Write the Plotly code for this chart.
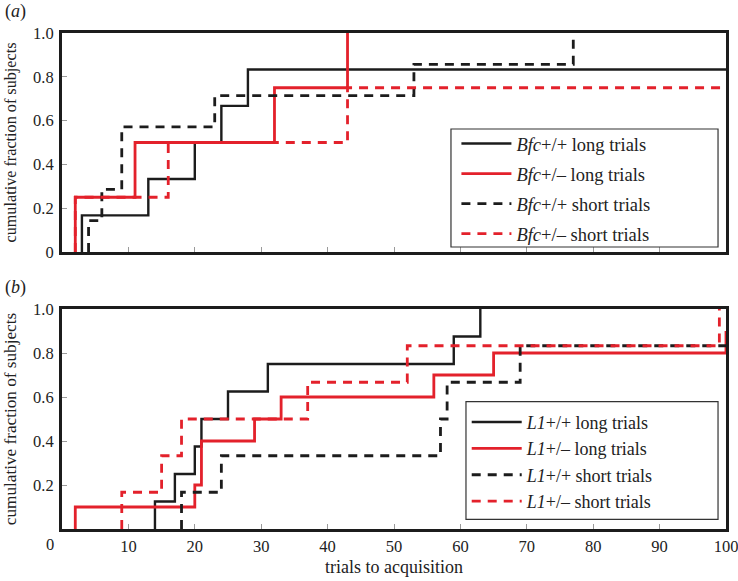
import plotly.graph_objects as go

# ---------------- data ----------------
X_MAX = 100

# panel (a): Bfc
a_wt_long_x = [3, 13, 20, 24, 28]
a_wt_long_y = [0.167, 0.333, 0.5, 0.667, 0.833]
a_het_long_x = [2, 11, 32, 43]
a_het_long_y = [0.25, 0.5, 0.75, 1.0]
a_wt_short_x = [4, 6, 9, 23, 53, 77]
a_wt_short_y = [0.143, 0.286, 0.571, 0.714, 0.857, 1.0]
a_het_short_x = [2, 16, 43]
a_het_short_y = [0.25, 0.5, 0.75]

# panel (b): L1
b_wt_long_x = [14, 17, 20, 21, 25, 31, 59, 63]
b_wt_long_y = [0.125, 0.25, 0.375, 0.5, 0.625, 0.75, 0.875, 1.0]
b_het_long_x = [2, 20, 21, 29, 33, 56, 65, 100]
b_het_long_y = [0.1, 0.2, 0.4, 0.5, 0.6, 0.7, 0.8, 0.9]
b_wt_short_x = [18, 24, 57, 58, 69]
b_wt_short_y = [0.167, 0.333, 0.5, 0.667, 0.833]
b_het_short_x = [9, 15, 18, 37, 52, 99]
b_het_short_y = [0.167, 0.333, 0.5, 0.667, 0.833, 1.0]

x_ticks = [0, 10, 20, 30, 40, 50, 60, 70, 80, 90, 100]
y_ticks = [0, 0.2, 0.4, 0.6, 0.8, 1.0]
y_ticklabels = ["0", "0.2", "0.4", "0.6", "0.8", "1.0"]

legend_a = ["<i>Bfc</i>+/+ long trials", "<i>Bfc</i>+/– long trials",
            "<i>Bfc</i>+/+ short trials", "<i>Bfc</i>+/– short trials"]
legend_b = ["<i>L1</i>+/+ long trials", "<i>L1</i>+/– long trials",
            "<i>L1</i>+/+ short trials", "<i>L1</i>+/– short trials"]

BLACK = "#1c1c1c"
RED = "#e3212b"
FONT = "Liberation Serif, Times New Roman, serif"
DASH = "9px,7px"


def step_xy(xs, ys):
    px = [xs[0]] + list(xs)
    py = [0] + list(ys)
    # curves that never reach 1.0 continue flat to the end of the axis
    if px[-1] < X_MAX and py[-1] < 1.0:
        px.append(X_MAX)
        py.append(py[-1])
    return px, py


fig = go.Figure()

series = [
    (a_wt_long_x, a_wt_long_y, BLACK, "solid", 2.4, legend_a[0], "y", "legend"),
    (a_het_long_x, a_het_long_y, RED, "solid", 2.8, legend_a[1], "y", "legend"),
    (a_wt_short_x, a_wt_short_y, BLACK, DASH, 2.8, legend_a[2], "y", "legend"),
    (a_het_short_x, a_het_short_y, RED, DASH, 2.8, legend_a[3], "y", "legend"),
    (b_wt_long_x, b_wt_long_y, BLACK, "solid", 2.4, legend_b[0], "y2", "legend2"),
    (b_het_long_x, b_het_long_y, RED, "solid", 2.8, legend_b[1], "y2", "legend2"),
    (b_wt_short_x, b_wt_short_y, BLACK, DASH, 2.8, legend_b[2], "y2", "legend2"),
    (b_het_short_x, b_het_short_y, RED, DASH, 2.8, legend_b[3], "y2", "legend2"),
]
for i, (xs, ys, col, dash, w, name, yax, leg) in enumerate(series):
    px, py = step_xy(xs, ys)
    fig.add_trace(go.Scatter(
        x=px, y=py, mode="lines", name=name,
        line=dict(color=col, width=w, dash=dash, shape="hv"),
        xaxis="x" if yax == "y" else "x2", yaxis=yax, legend=leg,
        legendgroup=f"g{i}", showlegend=True, hoverinfo="skip",
    ))

axis_common = dict(
    showline=True, mirror=True, linecolor=BLACK, linewidth=3,
    showgrid=False, zeroline=False, ticks="inside", ticklen=5,
    tickcolor="#9a9a9a", tickwidth=1, automargin=False,
    ticklabeloverflow="allow",
    tickfont=dict(family=FONT, size=16.5, color="#222"),
)

title_font = dict(family=FONT, size=18, color="#222")
ytitle_font_a = dict(family=FONT, size=16.2, color="#222")
ytitle_font_b = dict(family=FONT, size=17.2, color="#222")
legend_font_a = dict(family=FONT, size=18.5, color="#222")
legend_font_b = dict(family=FONT, size=18, color="#222")

fig.update_layout(
    width=738, height=581,
    margin=dict(l=62, r=12, t=33, b=52, autoexpand=False),
    paper_bgcolor="white", plot_bgcolor="white",
    font=dict(family=FONT, size=16, color="#222"),
    hovermode=False,
    xaxis=dict(domain=[0, 1], range=[0, X_MAX], anchor="y",
               tickvals=x_ticks, showticklabels=False, **axis_common),
    yaxis=dict(domain=[0.5585, 1], range=[0, 1], anchor="x",
               tickvals=y_ticks, ticktext=y_ticklabels, ticklabelstandoff=2,
               title=dict(text="cumulative fraction of subjects",
                          font=ytitle_font_a, standoff=13),
               **axis_common),
    xaxis2=dict(domain=[0, 1], range=[0, X_MAX], anchor="y2",
                tickvals=x_ticks,
                ticktext=[""] + [str(v) for v in x_ticks[1:]],
                title=dict(text="trials to acquisition",
                           font=title_font, standoff=6),
                **axis_common),
    yaxis2=dict(domain=[0, 0.4435], range=[0, 1], anchor="x2",
                tickvals=y_ticks[1:], ticktext=y_ticklabels[1:],
                ticklabelstandoff=2,
                title=dict(text="cumulative fraction of subjects",
                           font=ytitle_font_b, standoff=13),
                **axis_common),
    legend=dict(x=0.594, y=0.8145, xanchor="left", yanchor="top",
                bgcolor="rgba(0,0,0,0)", borderwidth=0,
                font=legend_font_a, tracegroupgap=3, itemwidth=50),
    legend2=dict(x=0.6095, y=0.2525, xanchor="left", yanchor="top",
                 bgcolor="rgba(0,0,0,0)", borderwidth=0,
                 font=legend_font_b, tracegroupgap=0, itemwidth=50),
    shapes=[
        dict(type="rect", xref="paper", yref="paper",
             x0=0.5858, x1=0.988, y0=0.5685, y1=0.8065,
             fillcolor="white", line=dict(color="#333", width=1.2),
             layer="above"),
        dict(type="rect", xref="paper", yref="paper",
             x0=0.6084, x1=0.988, y0=0.0196, y1=0.2567,
             fillcolor="white", line=dict(color="#333", width=1.2),
             layer="above"),
    ],
    annotations=[
        dict(text="(<i>a</i>)", xref="paper", yref="paper",
             x=-0.0889, y=1.044, xanchor="left", yanchor="middle",
             showarrow=False, font=title_font),
        dict(text="(<i>b</i>)", xref="paper", yref="paper",
             x=-0.0889, y=0.486, xanchor="left", yanchor="middle",
             showarrow=False, font=title_font),
        dict(text="0", xref="paper", yref="paper",
             x=-0.018, y=-0.032, xanchor="center", yanchor="middle",
             showarrow=False, font=dict(family=FONT, size=16.5, color="#222")),
    ],
)

# the page's default 8px body margin would push the 738x581 figure out of
# the 738x581 window, so remove it
fig.write_html("out.html", config={"displayModeBar": False},
               post_script="document.body.style.margin='0';")
